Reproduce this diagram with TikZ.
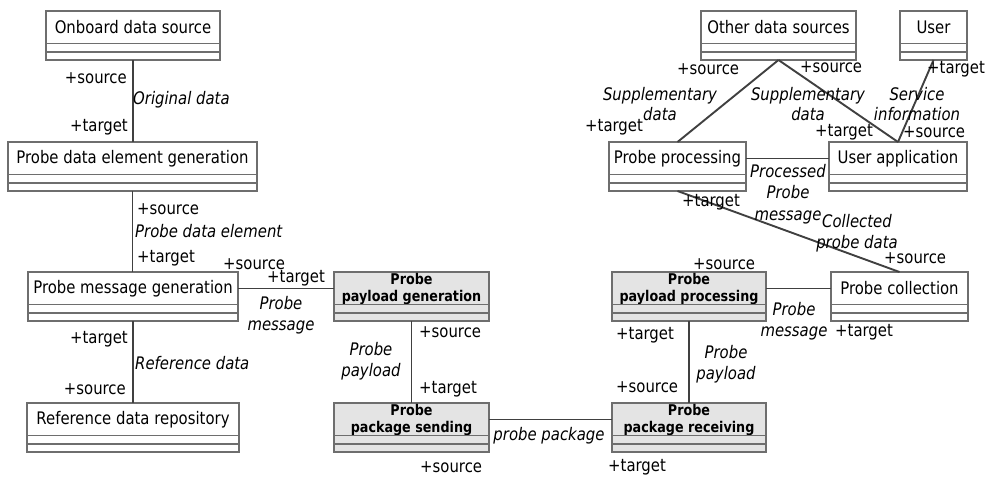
\documentclass[tikz,border=0pt]{standalone}
\usepackage{fontspec}
\setmainfont{DejaVu Sans}[FakeStretch=0.86]
\usetikzlibrary{calc}

\definecolor{boxline}{HTML}{6E6E6E}
\definecolor{assocline}{HTML}{404040}
\definecolor{activefill}{HTML}{E4E4E4}

\tikzset{
  classbox/.style={draw=boxline, line width=1.3pt, inner sep=0pt, outer sep=0pt},
  plainbox/.style={classbox, fill=white},
  activebox/.style={classbox, fill=activefill},
  plaintitle/.style={inner sep=0pt, font=\fontsize{17.3}{20}\selectfont},
  activetitle/.style={inner sep=0pt, align=center, font=\bfseries\fontsize{14.8}{17}\selectfont},
  divider/.style={draw=boxline, line width=1.3pt},
  assoc/.style={draw=assocline, line width=1.9pt},
  role/.style={inner sep=0pt, font=\fontsize{17.3}{20}\selectfont},
  assoclabel/.style={inner sep=0pt, align=center, font=\itshape\fontsize{17.3}{20.5}\selectfont},
}

% UML class box: box style, title style, name, left, top, right, title
\newcommand\umlclass[7]{%
  \pgfmathsetmacro\ubw{#6-#4}%
  \node[#1, minimum width=\ubw pt, minimum height=49pt, anchor=north west] (#3) at (#4,#5) {};
  \node[#2] (#3-t) at ([yshift=-16.5pt]#3.north) {#7};
  \draw[divider] ([yshift=-32.5pt]#3.north west) -- ([yshift=-32.5pt]#3.north east);
  \draw[divider] ([yshift=-41pt]#3.north west) -- ([yshift=-41pt]#3.north east);
}

\begin{document}
\begin{tikzpicture}[x=1pt, y=-1pt]
\path[use as bounding box] (0,0) rectangle (994,477);

% ---- classes ----
\umlclass{plainbox}{plaintitle}{ods}{46}{11}{220}{Onboard data source}
\umlclass{plainbox}{plaintitle}{pdeg}{8}{142}{257}{Probe data element generation}
\umlclass{plainbox}{plaintitle}{pmg}{28}{272}{238}{Probe message generation}
\umlclass{plainbox}{plaintitle}{rdr}{27}{403}{239}{Reference data repository}
\umlclass{activebox}{activetitle}{ppg}{334}{272}{489}{Probe\\payload generation}
\umlclass{activebox}{activetitle}{pps}{334}{403}{489}{Probe\\package sending}
\umlclass{activebox}{activetitle}{ppr}{612}{403}{766}{Probe\\package receiving}
\umlclass{activebox}{activetitle}{ppp}{612}{272}{766}{Probe\\payload processing}
\umlclass{plainbox}{plaintitle}{pc}{831}{272}{968}{Probe collection}
\umlclass{plainbox}{plaintitle}{pp}{609}{142}{746}{Probe processing}
\umlclass{plainbox}{plaintitle}{ua}{829}{142}{967}{User application}
\umlclass{plainbox}{plaintitle}{other}{701}{11}{856}{Other data sources}
\umlclass{plainbox}{plaintitle}{user}{900}{11}{967}{User}

% ---- associations ----
\draw[assoc] (ods.south) -- (ods.south |- pdeg.north);
\draw[assoc] (pdeg.south) -- (pdeg.south |- pmg.north);
\draw[assoc] (pmg.south) -- (pmg.south |- rdr.north);
\draw[assoc] (pmg.east |- pmg-t) -- (ppg.west |- pmg-t);
\draw[assoc] (ppg.south) -- (ppg.south |- pps.north);
\draw[assoc] (pps.east |- pps-t) -- (ppr.west |- pps-t);
\draw[assoc] (ppp.south) -- (ppp.south |- ppr.north);
\draw[assoc] (ppp.east |- ppp-t) -- (pc.west |- ppp-t);
\draw[assoc] (pp.south) -- (pc.north);
\draw[assoc] (pp.east |- pp-t) -- (ua.west |- pp-t);
\draw[assoc] (other.south) -- (pp.north);
\draw[assoc] (other.south) -- (ua.north);
\draw[assoc] (user.south) -- (ua.north);

% ---- roles and association names ----
\node[role, anchor=east] (r1s) at (127,78) {+source};
\node[assoclabel, anchor=west] (a1) at (133,100) {Original data};
\node[role, anchor=east] (r1t) at (128,127) {+target};

\node[role, anchor=west] (r2s) at (137,209) {+source};
\node[assoclabel, anchor=west] (a2) at (135,231) {Probe data element};
\node[role, anchor=west] (r2t) at (137,258) {+target};

\node[role, anchor=east] (r3t) at (128,339) {+target};
\node[assoclabel, anchor=west] (a3) at (135,363) {Reference data};
\node[role, anchor=east] (r3s) at (126,389) {+source};

\node[role, anchor=west] (r4s) at (223,264) {+source};
\node[role, anchor=west] (r4t) at (267,278) {+target};
\node[assoclabel] (a4) at (281,315) {Probe\\message};

\node[role, anchor=west] (r5s) at (419,332) {+source};
\node[assoclabel] (a5) at (371,361) {Probe\\payload};
\node[role, anchor=west] (r5t) at (419,389) {+target};

\node[role, anchor=west] (r6s) at (420,467) {+source};
\node[assoclabel] (a6) at (549,436) {probe package};
\node[role, anchor=west] (r6t) at (608,467) {+target};

\node[role, anchor=west] (r7t) at (616,335) {+target};
\node[assoclabel] (a7) at (726,364) {Probe\\payload};
\node[role, anchor=west] (r7s) at (616,387) {+source};

\node[role, anchor=west] (r8s) at (693,264) {+source};
\node[assoclabel] (a8) at (794,321) {Probe\\message};
\node[role, anchor=west] (r8t) at (835,332) {+target};

\node[role, anchor=west] (r9s) at (884,258) {+source};
\node[assoclabel] (a9) at (857,233) {Collected\\probe data};
\node[role, anchor=west] (r9t) at (682,202) {+target};

\node[assoclabel, font=\itshape\fontsize{17.3}{21.5}\selectfont] (a10) at (788,194) {Processed\\Probe\\message};

\node[role, anchor=west] (r11s) at (677,69) {+source};
\node[assoclabel] (a11) at (660,104) {Supplementary\\data};
\node[role, anchor=west] (r11t) at (585,127) {+target};

\node[role, anchor=west] (r12s) at (800,67) {+source};
\node[assoclabel] (a12) at (808,104) {Supplementary\\data};
\node[role, anchor=west] (r12t) at (815,132) {+target};

\node[role, anchor=west] (r13t) at (927,69) {+target};
\node[assoclabel] (a13) at (917,104) {Service\\information};
\node[role, anchor=west] (r13s) at (903,132) {+source};
\end{tikzpicture}
\end{document}
